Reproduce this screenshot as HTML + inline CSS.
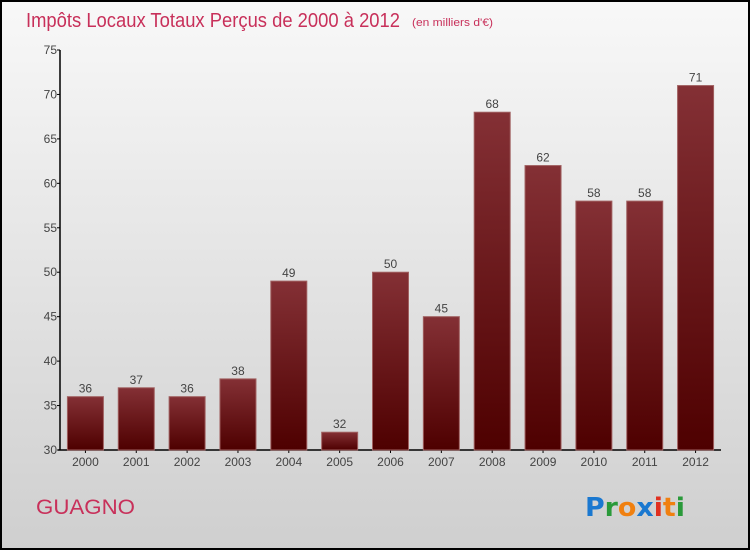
<!DOCTYPE html>
<html><head><meta charset="utf-8"><style>
html,body{margin:0;padding:0}
body{width:750px;height:550px;overflow:hidden;font-family:"Liberation Sans",sans-serif}
</style></head><body>
<svg id="chart" width="750" height="550" xmlns="http://www.w3.org/2000/svg" font-family="'Liberation Sans',sans-serif">
<defs>
<linearGradient id="bg" x1="0" y1="0" x2="0" y2="1"><stop offset="0" stop-color="#f8f8f8"/><stop offset="1" stop-color="#cfcfcf"/></linearGradient>
<linearGradient id="bar" x1="0" y1="0" x2="0" y2="1"><stop offset="0" stop-color="#843035"/><stop offset="1" stop-color="#4e0000"/></linearGradient>
</defs>
<rect x="1" y="1" width="748" height="548" fill="url(#bg)" stroke="#000" stroke-width="2"/>
<text x="26" y="27" font-size="20" fill="#c8305a" textLength="374" lengthAdjust="spacingAndGlyphs">Impôts Locaux Totaux Perçus de 2000 à 2012</text>
<text x="412" y="26" font-size="11" fill="#c8305a" textLength="81" lengthAdjust="spacingAndGlyphs">(en milliers d'€)</text>
<g id="axes"></g>
<g id="bars"></g>
<text x="36" y="514" font-size="21" fill="#c8305a" textLength="99" lengthAdjust="spacingAndGlyphs">GUAGNO</text>
<g font-size="26" font-weight="bold" font-family="'DejaVu Sans',sans-serif">
<text x="585" y="516" textLength="100" lengthAdjust="spacingAndGlyphs"><tspan fill="#1a78d0">P</tspan><tspan fill="#2a9a3a">r</tspan><tspan fill="#f08010">o</tspan><tspan fill="#1a78d0">x</tspan><tspan fill="#e03020">i</tspan><tspan fill="#f08010">t</tspan><tspan fill="#2a9a3a">i</tspan></text>
</g>
</svg>
<script>
const years=["2000","2001","2002","2003","2004","2005","2006","2007","2008","2009","2010","2011","2012"];
const values=[36,37,36,38,49,32,50,45,68,62,58,58,71];
const yTicks=[30,35,40,45,50,55,60,65,70,75];
const NS="http://www.w3.org/2000/svg";
const x0=60,x1=721,yTop=50,yBot=450,vmin=30,vmax=75;
const band=(x1-x0)/years.length;
function y(v){return yBot-(v-vmin)/(vmax-vmin)*(yBot-yTop);}
function xc(i){return x0+band*(i+0.5);}
function mk(tag,attrs,parent){const e=document.createElementNS(NS,tag);for(const k in attrs)e.setAttribute(k,attrs[k]);parent.appendChild(e);return e;}
const axes=document.getElementById('axes'),bars=document.getElementById('bars');
let l=mk('line',{x1:x0,y1:yTop,x2:x0,y2:yBot,stroke:'#000','stroke-width':1.5},axes);


l=mk('line',{x1:x0-2,y1:yBot,x2:x1,y2:yBot,stroke:'#000','stroke-width':1.5},axes);


yTicks.forEach(v=>{
  mk('line',{x1:x0-3,y1:y(v),x2:x0,y2:y(v),stroke:'#000'},axes);
  const t=mk('text',{x:x0-3,y:y(v)+4,'text-anchor':'end','font-size':12,fill:'#444'},axes);
  t.textContent=v;
  
  
});
const bw=36;
years.forEach((yr,i)=>{
  const cx=xc(i),v=values[i];
  const r=mk('rect',{x:cx-bw/2,y:y(v),width:bw,height:yBot-y(v),fill:'url(#bar)',stroke:'#a06060','stroke-width':1},bars);
  
  
  const t=mk('text',{x:cx,y:y(v)-4,'text-anchor':'middle','font-size':12,fill:'#444'},bars);
  t.textContent=v;
  
  
  mk('line',{x1:cx,y1:yBot,x2:cx,y2:yBot+3,stroke:'#000'},axes);
  const xl=mk('text',{x:cx,y:yBot+16,'text-anchor':'middle','font-size':12,fill:'#444'},axes);
  xl.textContent=yr;
  
  
});
</script>
</body></html>
